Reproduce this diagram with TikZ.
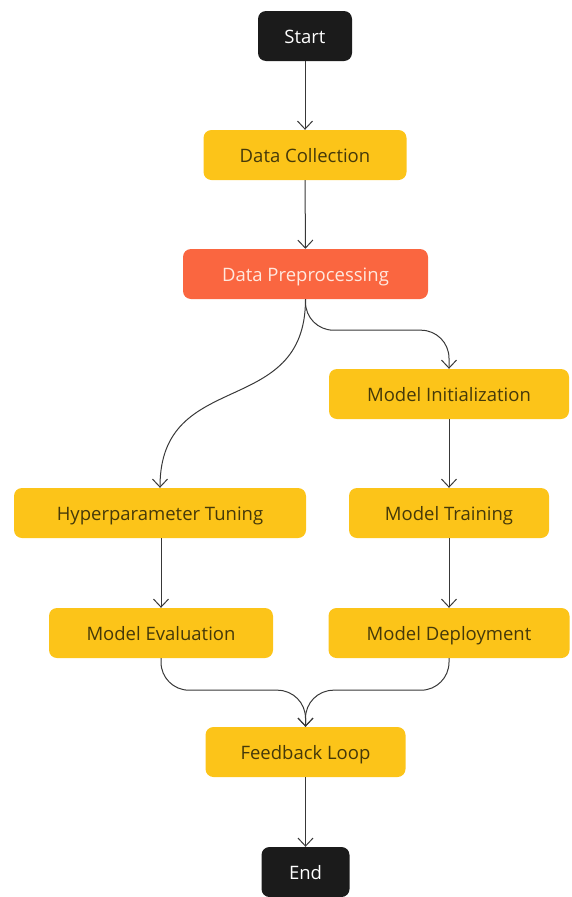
\documentclass[tikz,border=0pt]{standalone}
\usepackage{fontspec}
\setmainfont{Open Sans}
\usetikzlibrary{arrows.meta}
\definecolor{boxyellow}{HTML}{FCC419}
\definecolor{boxorange}{HTML}{FA6640}
\definecolor{boxblack}{HTML}{1B1B1B}
\definecolor{txtbrown}{HTML}{45390A}
\definecolor{txtlight}{HTML}{FFE8DE}
\definecolor{linegray}{HTML}{383838}
\tikzset{
  basebox/.style={rounded corners=8pt, minimum height=50pt, inner sep=0pt,
    text height=16pt, text depth=2pt,
    font=\fontsize{18.5}{22}\selectfont},
  ybox/.style={basebox, fill=boxyellow, text=txtbrown},
  obox/.style={basebox, fill=boxorange, text=txtlight},
  kbox/.style={basebox, fill=boxblack, text=white},
  arr/.style={draw=linegray, line width=1pt,
    -{Straight Barb[length=8pt,width=15pt,line width=1pt]}},
}
\begin{document}
\begin{tikzpicture}[x=1pt, y=-1pt]
\useasboundingbox (0,0) rectangle (571,897);
\node[kbox, minimum width=94pt]  (start) at (305,36)  {Start};
\node[ybox, minimum width=203pt] (dc)    at (305,155) {Data Collection};
\node[obox, minimum width=245pt] (dp)    at (305.5,274) {Data Preprocessing};
\node[ybox, minimum width=240pt] (mi)    at (449,394) {Model Initialization};
\node[ybox, minimum width=292pt] (ht)    at (160,513) {Hyperparameter Tuning};
\node[ybox, minimum width=200pt] (mt)    at (449,513) {Model Training};
\node[ybox, minimum width=224pt] (me)    at (161,633) {Model Evaluation};
\node[ybox, minimum width=241pt] (md)    at (449,633) {Model Deployment};
\node[ybox, minimum width=200pt] (fl)    at (305.5,752) {Feedback Loop};
\node[kbox, minimum width=88pt]  (end)   at (305.5,872) {End};

\draw[arr] (start) -- (dc);
\draw[arr] (dc) -- (dp);
\draw[arr, rounded corners=28pt] (dp.south) -- ++(0,31) -| (mi.north);
\draw[arr] (dp.south) to[out=-90, in=90, looseness=1.3] (ht.north);
\draw[arr] (mi) -- (mt);
\draw[arr] (mt) -- (md);
\draw[arr] (ht.south -| me.north) -- (me.north);
\draw[arr, rounded corners=28pt] (me.south) -- ++(0,32) -| (fl.north);
\draw[arr, rounded corners=28pt] (md.south) -- ++(0,32) -| (fl.north);
\draw[arr] (fl) -- (end);
\end{tikzpicture}
\end{document}
